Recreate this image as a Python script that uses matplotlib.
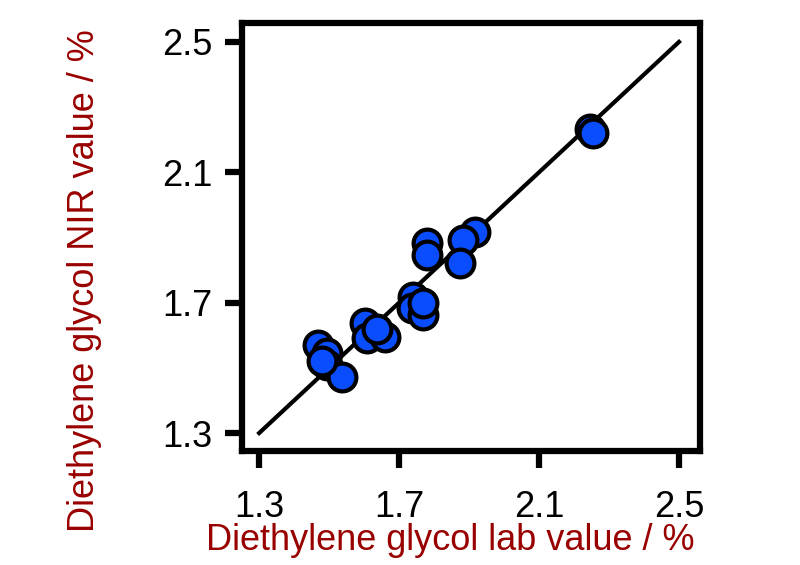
import numpy as np
import matplotlib
matplotlib.use('Agg')
import matplotlib.pyplot as plt

plt.rcParams['font.family'] = ['Liberation Sans', 'DejaVu Sans']

# lab vs NIR values
lab_value = [2.246, 2.253, 1.779, 1.779, 1.917, 1.884, 1.874,
             1.741, 1.736, 1.769, 1.767, 1.603, 1.608, 1.660, 1.636,
             1.469, 1.493, 1.493, 1.536, 1.480]
nir_value = [2.232, 2.222, 1.882, 1.846, 1.918, 1.892, 1.821,
             1.718, 1.683, 1.662, 1.700, 1.637, 1.591, 1.596, 1.620,
             1.570, 1.545, 1.509, 1.473, 1.520]
ticks = [1.3, 1.7, 2.1, 2.5]
line_ends = [1.3, 2.5]

label_color = '#990000'

fig = plt.figure(figsize=(8, 5.65), dpi=100)
ax = fig.add_axes([0.3025, 0.2018, 0.5725, 0.7575])

ax.plot(line_ends, line_ends, color='black', linewidth=3, zorder=1)
ax.scatter(lab_value, nir_value, s=400, color='#0a4dff', edgecolor='black',
           linewidth=3, zorder=2)

ax.set_xlim(1.251, 2.56)
ax.set_ylim(1.245, 2.558)
ax.set_xticks(ticks)
ax.set_yticks(ticks)
ax.set_xticklabels([f"{t:.1f}" for t in ticks])
ax.set_yticklabels([f"{t:.1f}" for t in ticks])

for sp in ax.spines.values():
    sp.set_linewidth(4.5)
ax.tick_params(direction='out', length=12, width=4.5, labelsize=26)
ax.tick_params(axis='x', pad=16)
ax.tick_params(axis='y', pad=9)

ax.set_xlabel("Diethylene glycol lab value / %", fontsize=26, color=label_color)
ax.set_ylabel("Diethylene glycol NIR value / %", fontsize=26, color=label_color)
ax.xaxis.set_label_coords(0.454, -0.168)
ax.yaxis.set_label_coords(-0.305, 0.397)

plt.savefig("out.png", dpi=100)
